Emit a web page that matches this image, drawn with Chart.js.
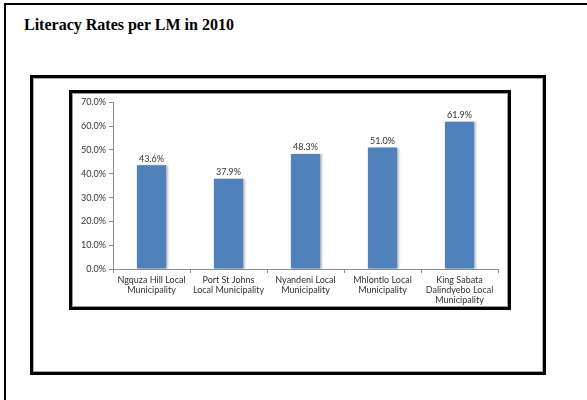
<!DOCTYPE html>
<html lang="en">
<head>
    <meta charset="UTF-8">
    <title>Literacy Rates per LM in 2010</title>
    <script src="https://cdn.jsdelivr.net/npm/chart.js"></script>
    <style>
        body {
            margin: 0;
            width: 587px;
            height: 400px;
            overflow: hidden;
            background: #fff;
            position: relative;
        }
        .page {
            position: absolute;
            left: 4px;
            top: 3px;
            width: 700px;
            height: 500px;
            border: 2px solid #000;
        }
        .title {
            position: absolute;
            left: 24px;
            top: 16px;
            font-family: "Liberation Serif", "Times New Roman", serif;
            font-weight: bold;
            font-size: 16px;
            color: #000;
        }
        .frame {
            position: absolute;
            left: 30px;
            top: 75px;
            width: 510px;
            height: 294px;
            border: 3px solid #000;
            box-shadow: inset 0 0 0 1px #aaa;
        }
        .chartbox {
            position: absolute;
            left: 69px;
            top: 90px;
            width: 436px;
            height: 214px;
            border: 3px solid #000;
            box-shadow: inset 0 0 0 1px #999;
        }
        .chartbox canvas {
            position: absolute;
            left: 1px;
            top: 1px;
        }
    </style>
</head>
<body>
    <div class="page"></div>
    <div class="title">Literacy Rates per LM in 2010</div>
    <div class="frame"></div>
    <div class="chartbox">
        <canvas id="literacyChart" width="434" height="212"></canvas>
    </div>
    <script>
        // dati
        const municipalities = [
            ["Ngquza Hill Local", "Municipality"],
            ["Port St Johns", "Local Municipality"],
            ["Nyandeni Local", "Municipality"],
            ["Mhlontlo Local", "Municipality"],
            ["King Sabata", "Dalindyebo Local", "Municipality"]
        ];
        const literacyRates = [43.6, 37.9, 48.3, 51.0, 61.9];
        const yTicks = [0, 10, 20, 30, 40, 50, 60, 70];

        const textColor = "#333333";
        const axisColor = "#8c8c8c";

        // ombra leggera a destra delle barre
        const barShadow = {
            id: "barShadow",
            beforeDatasetDraw(chart) {
                const ctx = chart.ctx;
                ctx.save();
                ctx.shadowColor = "rgba(0, 0, 0, 0.25)";
                ctx.shadowOffsetX = 2;
                ctx.shadowOffsetY = 0;
                ctx.shadowBlur = 2;
            },
            afterDatasetDraw(chart) {
                chart.ctx.restore();
            }
        };

        // etichette sopra le barre
        const valueLabels = {
            id: "valueLabels",
            afterDatasetsDraw(chart) {
                const ctx = chart.ctx;
                const meta = chart.getDatasetMeta(0);
                ctx.save();
                ctx.font = "9px Lato";
                ctx.fillStyle = textColor;
                ctx.textAlign = "center";
                ctx.textBaseline = "bottom";
                meta.data.forEach((bar, i) => {
                    ctx.fillText(literacyRates[i].toFixed(1) + "%", bar.x, bar.y - 2);
                });
                ctx.restore();
            }
        };

        const ctx = document.getElementById("literacyChart").getContext("2d");
        new Chart(ctx, {
            type: "bar",
            data: {
                labels: municipalities,
                datasets: [{
                    data: literacyRates,
                    backgroundColor: "#4f81bd",
                    borderWidth: 0,
                    categoryPercentage: 1.0,
                    barPercentage: 0.38
                }]
            },
            options: {
                responsive: false,
                animation: false,
                devicePixelRatio: 1,
                layout: {
                    padding: { top: 7, right: 9, bottom: 0, left: 0 }
                },
                plugins: {
                    legend: { display: false },
                    tooltip: { enabled: false }
                },
                scales: {
                    x: {
                        grid: {
                            display: true,
                            drawOnChartArea: false,
                            drawTicks: true,
                            tickLength: 4,
                            color: axisColor
                        },
                        border: { display: true, color: axisColor },
                        ticks: {
                            color: textColor,
                            font: { family: "Lato", size: 9, lineHeight: 1.1 },
                            maxRotation: 0,
                            autoSkip: false,
                            padding: 2
                        },
                        afterFit(scale) {
                            scale.height = 37;
                        }
                    },
                    y: {
                        min: yTicks[0],
                        max: yTicks[yTicks.length - 1],
                        afterBuildTicks(scale) {
                            scale.ticks = yTicks.map(v => ({ value: v }));
                        },
                        grid: {
                            display: true,
                            drawOnChartArea: false,
                            drawTicks: true,
                            tickLength: 4,
                            color: axisColor
                        },
                        border: { display: true, color: axisColor },
                        ticks: {
                            color: textColor,
                            font: { family: "Lato", size: 9 },
                            padding: 3,
                            callback: v => v.toFixed(1) + "%"
                        },
                        afterFit(scale) {
                            scale.width = 40;
                        }
                    }
                }
            },
            plugins: [barShadow, valueLabels]
        });
    </script>
</body>
</html>
